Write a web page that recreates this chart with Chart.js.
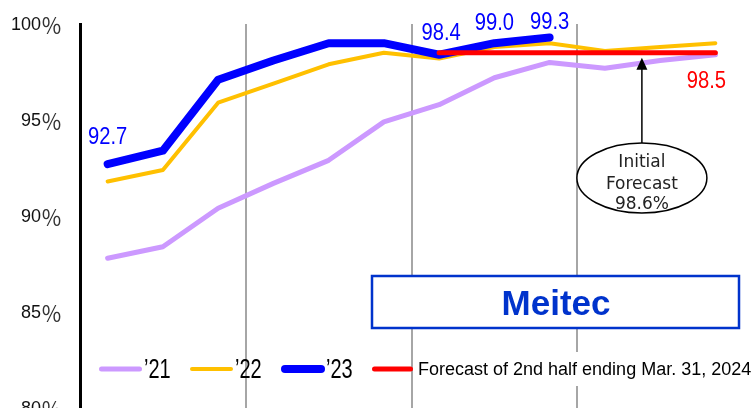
<!DOCTYPE html>
<html>
<head>
<meta charset="utf-8">
<script src="https://cdn.jsdelivr.net/npm/chart.js@4/dist/chart.umd.min.js"></script>
<style>
  html, body { margin: 0; padding: 0; background: #fff; overflow: hidden; }
  #chart { display: block; }
</style>
</head>
<body>
<canvas id="chart" width="751" height="408" style="width:751px;height:408px"></canvas>
<script>
// Monthly operating rate, fiscal year Apr -> Mar
const months = ['Apr', 'May', 'Jun', 'Jul', 'Aug', 'Sep', 'Oct', 'Nov', 'Dec', 'Jan', 'Feb', 'Mar'];
const seriesNames = ['\u201921', '\u201922', '\u201923', 'Forecast of 2nd half ending Mar. 31, 2024'];
const rate21 = [87.8, 88.4, 90.4, 91.7, 92.9, 94.9, 95.8, 97.2, 98.0, 97.7, 98.1, 98.4];
const rate22 = [91.8, 92.4, 95.9, 96.9, 97.9, 98.5, 98.2, 98.8, 99.0, 98.6, 98.8, 99.0];
const rate23 = [92.7, 93.4, 97.1, 98.1, 99.0, 99.0, 98.4, 99.0, 99.3, null, null, null];
const forecast2H = [null, null, null, null, null, null, 98.5, 98.5, 98.5, 98.5, 98.5, 98.5];
const yTicks = [80, 85, 90, 95, 100];
const initialForecast = 98.6;
const companyName = 'Meitec';

const series = [rate21, rate22, rate23, forecast2H];
const colors = ['#CC99FF', '#FFC000', '#0000FF', '#FF0000'];
const widths = [5, 4, 8, 5];

// which points get a value label, and where the text sits relative to the point
const callouts = [
  { s: 2, i: 0, dx: 0, dy: -20 },
  { s: 2, i: 6, dx: 2, dy: -15 },
  { s: 2, i: 7, dx: 0, dy: -13 },
  { s: 2, i: 8, dx: 0, dy: -8 },
  { s: 3, i: 11, dx: -9, dy: 35 }
];

// condensed text helper (the source uses a narrow font for numbers)
function narrowText(ctx, txt, x, y, size, color, squeeze, align) {
  ctx.save();
  ctx.font = size + 'px "Liberation Sans", Arial, sans-serif';
  ctx.fillStyle = color;
  ctx.textBaseline = 'alphabetic';
  const w = ctx.measureText(txt).width * squeeze;
  let left = x;
  if (align === 'center') left = x - w / 2;
  ctx.translate(left, y);
  ctx.scale(squeeze, 1);
  ctx.textAlign = 'left';
  ctx.fillText(txt, 0, 0);
  ctx.restore();
}

const overlay = {
  id: 'overlay',
  afterDatasetsDraw(chart) {
    const { ctx, scales: { x, y } } = chart;

    // y tick labels: digits plus a full-width percent sign
    yTicks.forEach(v => {
      const py = y.getPixelForValue(v);
      ctx.save();
      ctx.textBaseline = 'middle';
      ctx.textAlign = 'right';
      ctx.fillStyle = '#111';
      ctx.font = '18px "Liberation Sans", Arial, sans-serif';
      ctx.fillText(String(v), 41, py + 1);
      ctx.fillStyle = '#333';
      ctx.font = '21px "Noto Sans CJK JP", sans-serif';
      ctx.fillText('\uFF05', 62, py + 1);
      ctx.restore();
    });

    // value labels
    callouts.forEach(c => {
      const v = series[c.s][c.i];
      const px = x.getPixelForValue(c.i) + c.dx;
      const py = y.getPixelForValue(v) + c.dy;
      narrowText(ctx, v.toFixed(1), px, py, 24, colors[c.s], 0.84, 'center');
    });

    // company box
    ctx.save();
    ctx.fillStyle = '#fff';
    ctx.fillRect(372, 276, 367, 52);
    ctx.strokeStyle = '#0033CC';
    ctx.lineWidth = 2.5;
    ctx.strokeRect(372, 276, 367, 52);
    ctx.fillStyle = '#0033CC';
    ctx.font = 'bold 35px "Liberation Sans", Arial, sans-serif';
    ctx.textAlign = 'center';
    ctx.textBaseline = 'alphabetic';
    ctx.fillText(companyName, 556, 315);
    ctx.restore();

    // initial forecast callout
    const ax = x.getPixelForValue(9.67);
    const tipY = y.getPixelForValue(forecast2H[9]) + 5;
    const ex = ax, ey = 178, rx = 65, ry = 35;
    ctx.save();
    ctx.strokeStyle = '#000';
    ctx.fillStyle = '#000';
    ctx.lineWidth = 1.5;
    ctx.beginPath();
    ctx.moveTo(ax, ey - ry);
    ctx.lineTo(ax, tipY + 10);
    ctx.stroke();
    ctx.beginPath();
    ctx.moveTo(ax, tipY);
    ctx.lineTo(ax - 5.5, tipY + 12);
    ctx.lineTo(ax + 5.5, tipY + 12);
    ctx.closePath();
    ctx.fill();
    ctx.beginPath();
    ctx.ellipse(ex, ey, rx, ry, 0, 0, Math.PI * 2);
    ctx.fillStyle = '#fff';
    ctx.fill();
    ctx.stroke();
    ctx.fillStyle = '#222';
    ctx.font = '17px "DejaVu Sans", Verdana, sans-serif';
    ctx.textAlign = 'center';
    ctx.fillText('Initial', ex, 167);
    ctx.fillText('Forecast', ex, 189);
    ctx.fillText(initialForecast.toFixed(1) + '%', ex, 209);
    ctx.restore();

    // legend
    const legendY = 369;
    const items = [
      { x0: 99, x1: 142, tx: 144 },
      { x0: 190, x1: 233, tx: 235 },
      { x0: 281, x1: 325, tx: 326 },
      { x0: 372, x1: 413, tx: 418 }
    ];
    items.forEach((it, k) => {
      ctx.save();
      ctx.strokeStyle = colors[k];
      ctx.lineWidth = widths[k];
      ctx.lineCap = 'round';
      ctx.beginPath();
      ctx.moveTo(it.x0 + widths[k] / 2, legendY);
      ctx.lineTo(it.x1 - widths[k] / 2, legendY);
      ctx.stroke();
      ctx.restore();
      if (k < 3) {
        narrowText(ctx, seriesNames[k], it.tx, 378, 27, '#000', 0.74, 'left');
      } else {
        ctx.save();
        ctx.font = '18px "Liberation Sans", Arial, sans-serif';
        const w = ctx.measureText(seriesNames[k]).width;
        ctx.fillStyle = '#fff';
        ctx.fillRect(it.tx - 2, 352, w + 4, 34);
        ctx.fillStyle = '#000';
        ctx.textBaseline = 'alphabetic';
        ctx.fillText(seriesNames[k], it.tx, 375);
        ctx.restore();
      }
    });
  }
};

// draw order: forecast on top, then '23, '22, '21
const datasets = series.map((d, k) => ({
  label: seriesNames[k],
  data: d,
  order: 3 - k,
  borderColor: colors[k],
  backgroundColor: colors[k],
  borderWidth: widths[k],
  pointRadius: 0,
  tension: 0,
  borderCapStyle: 'round',
  borderJoinStyle: 'round',
  spanGaps: false
}));

new Chart(document.getElementById('chart'), {
  type: 'line',
  data: { labels: months, datasets },
  options: {
    responsive: false,
    devicePixelRatio: 1,
    animation: false,
    // the 80% baseline sits just below the bottom edge of the picture
    layout: { padding: { top: 24, right: 8, bottom: -2, left: 0 } },
    plugins: { legend: { display: false }, tooltip: { enabled: false } },
    scales: {
      x: {
        type: 'category',
        offset: true,
        ticks: { display: false },
        border: { display: false },
        grid: {
          offset: true,
          drawTicks: false,
          lineWidth: 2,
          color: c => (c.index % 3 === 0 && c.index > 0 && c.index < 12) ? '#A6A6A6' : 'rgba(0,0,0,0)'
        }
      },
      y: {
        min: yTicks[0],
        max: yTicks[yTicks.length - 1],
        afterFit: s => { s.width = 80; s.paddingTop = 0; s.paddingBottom = 0; },
        afterBuildTicks: s => { s.ticks = yTicks.map(v => ({ value: v })); },
        ticks: { display: false },
        grid: { display: false, drawTicks: false },
        border: { display: true, color: '#000', width: 3 }
      }
    }
  },
  plugins: [overlay]
});
</script>
</body>
</html>
